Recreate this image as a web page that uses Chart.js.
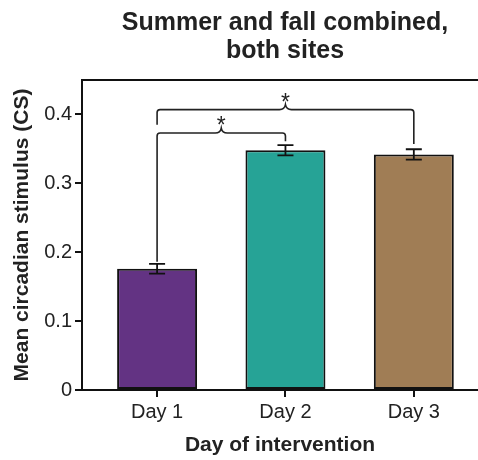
<!DOCTYPE html>
<html>
<head>
<meta charset="utf-8">
<script src="https://cdn.jsdelivr.net/npm/chart.js@4.4.1/dist/chart.umd.min.js"></script>
<style>
    html, body { margin: 0; padding: 0; background: #fff; }
</style>
</head>
<body>
<canvas id="myChart" width="478" height="460"></canvas>
<script>
const days = ['Day 1', 'Day 2', 'Day 3'];
const meanCS = [0.176, 0.348, 0.342];
const errCS = [0.0072, 0.0075, 0.0075];
const barColors = ['#633383', '#26a396', '#a07d55'];
const yTicks = [0, 0.1, 0.2, 0.3, 0.4];

// скобки значимости: от какого столбца, до какого, уровень, где кончаются ножки
const bracketFrom = [0, 0];
const bracketTo = [1, 2];
const bracketLevel = [0.373, 0.407];
const bracketLegFrom = [0.186, 0.385];
const bracketLegTo = [0.361, 0.357];
const bracketMark = ['*', '*'];

const titleLines = ['Summer and fall combined,', 'both sites'];

Chart.defaults.font.family = '"Liberation Sans", Arial, sans-serif';
Chart.defaults.color = '#222';

const errorBars = {
    id: 'errorBars',
    afterDatasetsDraw(chart) {
        const ctx = chart.ctx;
        const xs = chart.scales.x, ys = chart.scales.y;
        ctx.save();
        ctx.strokeStyle = '#111';
        ctx.lineWidth = 1.8;
        meanCS.forEach((v, i) => {
            const x = xs.getPixelForValue(i);
            const hi = ys.getPixelForValue(v + errCS[i]);
            const lo = ys.getPixelForValue(v - errCS[i]);
            ctx.beginPath();
            ctx.moveTo(x, hi); ctx.lineTo(x, lo);
            ctx.moveTo(x - 8, hi); ctx.lineTo(x + 8, hi);
            ctx.moveTo(x - 8, lo); ctx.lineTo(x + 8, lo);
            ctx.stroke();
        });
        ctx.restore();
    }
};

const brackets = {
    id: 'brackets',
    afterDatasetsDraw(chart) {
        const ctx = chart.ctx;
        const xs = chart.scales.x, ys = chart.scales.y;
        const r = 3;
        ctx.save();
        ctx.strokeStyle = '#222';
        ctx.fillStyle = '#222';
        ctx.lineWidth = 1.6;
        bracketFrom.forEach((f, k) => {
            const x1 = xs.getPixelForValue(f);
            const x2 = xs.getPixelForValue(bracketTo[k]);
            const y = ys.getPixelForValue(bracketLevel[k]);
            const y1 = ys.getPixelForValue(bracketLegFrom[k]);
            const y2 = ys.getPixelForValue(bracketLegTo[k]);
            const mid = (x1 + x2) / 2;
            ctx.beginPath();
            ctx.moveTo(x1, y1);
            ctx.lineTo(x1, y + r);
            ctx.arcTo(x1, y, x1 + r, y, r);
            ctx.lineTo(mid - 6, y);
            ctx.quadraticCurveTo(mid - 1, y, mid, y - 5);
            ctx.quadraticCurveTo(mid + 1, y, mid + 6, y);
            ctx.lineTo(x2 - r, y);
            ctx.arcTo(x2, y, x2, y + r, r);
            ctx.lineTo(x2, y2);
            ctx.stroke();

            ctx.font = '23px "Liberation Sans", Arial, sans-serif';
            ctx.textAlign = 'center';
            ctx.textBaseline = 'alphabetic';
            ctx.fillText(bracketMark[k], mid, y - 5 + 5);
        });
        ctx.restore();
    }
};

const frameTitle = {
    id: 'frameTitle',
    afterDraw(chart) {
        const ctx = chart.ctx;
        const ca = chart.chartArea;
        ctx.save();
        // верхняя рамка
        ctx.strokeStyle = '#111';
        ctx.lineWidth = 2;
        ctx.beginPath();
        ctx.moveTo(ca.left - 1, ca.top);
        ctx.lineTo(ca.right, ca.top);
        ctx.stroke();
        // заголовок
        ctx.fillStyle = '#222';
        ctx.font = 'bold 25px "Liberation Sans", Arial, sans-serif';
        ctx.textAlign = 'center';
        ctx.textBaseline = 'alphabetic';
        const cx = (ca.left + ca.right) / 2 + 5;
        ctx.fillText(titleLines[0], cx, 30);
        ctx.fillText(titleLines[1], cx, 58);
        ctx.restore();
    }
};

const ctx = document.getElementById('myChart');

new Chart(ctx, {
    type: 'bar',
    data: {
        datasets: [{
            data: meanCS.map((v, i) => ({x: i, y: v})),
            backgroundColor: barColors,
            borderColor: '#111',
            borderWidth: 2,
            borderSkipped: false,
            categoryPercentage: 1,
            barPercentage: 0.623
        }]
    },
    options: {
        responsive: false,
        animation: false,
        layout: {padding: {top: 80, right: 0, left: 0, bottom: 0}},
        plugins: {
            legend: {display: false},
            tooltip: {enabled: false},
            title: {display: false}
        },
        scales: {
            x: {
                type: 'linear',
                offset: false,
                min: -0.585,
                max: 2.5,
                afterBuildTicks: s => { s.ticks = days.map((d, i) => ({value: i})); },
                afterFit: s => { s.height = 70; },
                ticks: {
                    callback: v => days[v],
                    font: {size: 20},
                    color: '#222',
                    padding: 3,
                    autoSkip: false,
                    maxRotation: 0
                },
                grid: {offset: false, drawOnChartArea: false, drawTicks: true, tickLength: 7, color: '#111', lineWidth: 2},
                border: {color: '#111', width: 2},
                title: {
                    display: true,
                    text: 'Day of intervention',
                    font: {size: 21, weight: 'bold'},
                    color: '#222',
                    padding: {top: 0, bottom: 2}
                }
            },
            y: {
                min: 0,
                max: 0.45,
                afterBuildTicks: s => { s.ticks = yTicks.map(v => ({value: v})); },
                afterFit: s => { s.width = 82; },
                ticks: {
                    callback: v => (v === 0 ? '0' : v.toFixed(1)),
                    font: {size: 20},
                    color: '#222',
                    padding: 3
                },
                grid: {drawOnChartArea: false, drawTicks: true, tickLength: 7, color: '#111', lineWidth: 2},
                border: {color: '#111', width: 2},
                title: {
                    display: true,
                    text: 'Mean circadian stimulus (CS)',
                    font: {size: 21, weight: 'bold'},
                    color: '#222',
                    padding: {top: 10, bottom: 0}
                }
            }
        }
    },
    plugins: [errorBars, brackets, frameTitle]
});
</script>
</body>
</html>
